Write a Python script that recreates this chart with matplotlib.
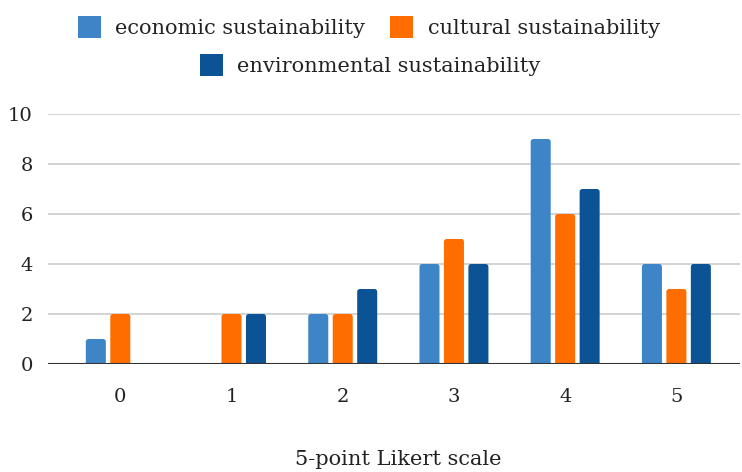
import matplotlib
matplotlib.use("Agg")
import matplotlib.pyplot as plt
from matplotlib.patches import Patch, FancyBboxPatch
import numpy as np

categories = ["0", "1", "2", "3", "4", "5"]
economic = [1, 0, 2, 4, 9, 4]
cultural = [2, 2, 2, 5, 6, 3]
environmental = [0, 2, 3, 4, 7, 4]
series_names = ["economic sustainability", "cultural sustainability",
                "environmental sustainability"]
colors = ["#3d85c6", "#ff6d01", "#0b5394"]
yticks = [0, 2, 4, 6, 8, 10]

plt.rcParams["font.family"] = ["DejaVu Serif"]
text_color = "#222222"

fig = plt.figure(figsize=(7.42, 4.72), dpi=100)
ax = fig.add_axes([0.0647, 0.2288, 0.9323, 0.5297])

x = np.arange(len(categories))
width = 0.18
offset = 0.22
radius = 0.025          # corner radius in x data units
aspect = 4.4            # y/x pixel-per-unit ratio so corners look round
for i, (vals, col) in enumerate(zip([economic, cultural, environmental], colors)):
    bars = ax.bar(x + (i - 1) * offset, vals, width, color=col, zorder=3)
    # swap each plain bar for one with rounded top corners; the bottom
    # extends below zero and is clipped by the axes
    for b in bars:
        h = b.get_height()
        b.set_visible(False)
        if h <= 0:
            continue
        ax.add_patch(FancyBboxPatch(
            (b.get_x(), -0.3), b.get_width(), h + 0.3,
            boxstyle=f"round,pad=0,rounding_size={radius}",
            mutation_aspect=aspect, facecolor=col, edgecolor="none",
            zorder=3, clip_on=True))

ax.set_xlim(-0.65, 5.57)
ax.set_ylim(0, 10)
ax.set_yticks(yticks)
ax.set_yticklabels([str(v) for v in yticks])
ax.set_xticks(x)
ax.set_xticklabels(categories)
ax.grid(axis="y", color="#cccccc", linewidth=1.2, zorder=0)
ax.axhline(0, color="#333333", linewidth=1.5, zorder=4)
for s in ax.spines.values():
    s.set_visible(False)
ax.tick_params(axis="both", length=0, labelsize=14, colors=text_color)
ax.tick_params(axis="y", pad=11)
ax.tick_params(axis="x", pad=17)
fig.text(0.537, 0.026, "5-point Likert scale", fontsize=15, color=text_color,
         ha="center", va="center")

handles = [Patch(facecolor=c, edgecolor="none") for c in colors]
leg1 = fig.legend(handles[:2], series_names[:2], loc="center",
                  bbox_to_anchor=(0.497, 0.943), ncol=2, frameon=False,
                  fontsize=15, handlelength=1.1, handleheight=1.3,
                  handletextpad=0.7, columnspacing=1.2)
leg2 = fig.legend(handles[2:], series_names[2:], loc="center",
                  bbox_to_anchor=(0.499, 0.862), ncol=1, frameon=False,
                  fontsize=15, handlelength=1.1, handleheight=1.3,
                  handletextpad=0.7)
for lg in (leg1, leg2):
    for t in lg.get_texts():
        t.set_color(text_color)

fig.savefig("out.png", dpi=100)
